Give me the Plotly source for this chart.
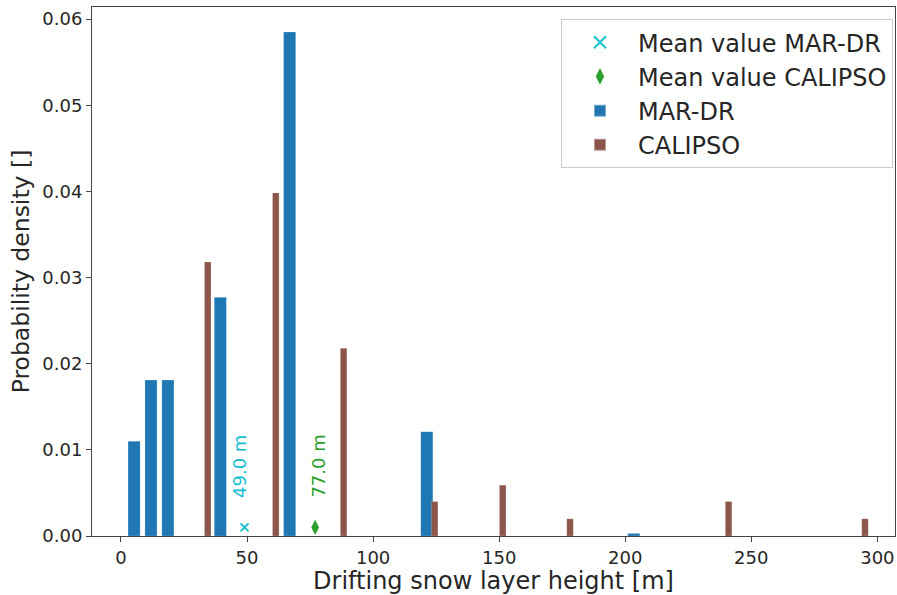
import plotly.graph_objects as go

mar_x = [5.2, 11.9, 18.6, 39.4, 66.9, 121.3, 203.4]
mar_y = [0.0110, 0.0181, 0.0181, 0.0277, 0.0585, 0.0121, 0.0003]
cal_x = [34.4, 61.4, 88.3, 124.4, 151.4, 178.1, 241.0, 295.1]
cal_y = [0.0318, 0.0398, 0.0218, 0.0040, 0.0059, 0.0020, 0.0040, 0.0020]
mean_mar = 49.0
mean_cal = 77.0
mean_y = 0.001

BLUE = "#1f77b4"
BROWN = "#8c564b"
CYAN = "#17becf"
GREEN = "#2ca02c"

fig = go.Figure()
fig.add_trace(go.Scatter(x=[mean_mar], y=[mean_y], mode="markers", name="Mean value MAR-DR",
                         marker=dict(symbol="x-thin", size=8, line=dict(color=CYAN, width=2), color=CYAN)))
fig.add_trace(go.Scatter(x=[mean_cal], y=[mean_y], mode="markers", name="Mean value CALIPSO",
                         marker=dict(symbol="diamond-tall", size=11, color=GREEN)))
fig.add_trace(go.Bar(x=mar_x, y=mar_y, width=[4.8] * len(mar_x), name="MAR-DR",
                     marker=dict(color=BLUE, line=dict(color="rgba(255,255,255,0.4)", width=0.5))))
fig.add_trace(go.Bar(x=cal_x, y=cal_y, width=[2.6] * len(cal_x), name="CALIPSO",
                     marker=dict(color=BROWN, line=dict(color="rgba(255,255,255,0.4)", width=0.5))))

fig.add_annotation(x=46.7, y=0.0081, text=f"{mean_mar:.1f} m", textangle=-90, showarrow=False,
                   font=dict(color=CYAN, size=18, family="DejaVu Sans"))
fig.add_annotation(x=78.3, y=0.0081, text=f"{mean_cal:.1f} m", textangle=-90, showarrow=False,
                   font=dict(color=GREEN, size=18, family="DejaVu Sans"))

axis_common = dict(showline=True, linecolor="#444", linewidth=1, mirror=True, ticks="outside",
                   ticklen=5, tickcolor="#444", showgrid=False, zeroline=False,
                   tickfont=dict(size=18, color="#262626", family="DejaVu Sans"))
fig.update_xaxes(range=[-11.5, 307], tickvals=[0, 50, 100, 150, 200, 250, 300],
                 title=dict(text="Drifting snow layer height [m]", font=dict(size=24, color="#262626", family="DejaVu Sans"),
                            standoff=4), **axis_common)
fig.update_yaxes(range=[0, 0.0614], tickvals=[0, 0.01, 0.02, 0.03, 0.04, 0.05, 0.06], tickformat=".2f",
                 title=dict(text="Probability density []", font=dict(size=23.5, color="#262626", family="DejaVu Sans"),
                            standoff=6), **axis_common)

fig.update_layout(
    width=897, height=595, barmode="overlay",
    margin=dict(l=92, r=2, t=7, b=59),
    plot_bgcolor="white", paper_bgcolor="white",
    font=dict(family="DejaVu Sans", color="#262626"),
    legend=dict(x=0.9975, y=0.977, xanchor="right", yanchor="top", bgcolor="rgba(255,255,255,0.8)",
                bordercolor="#cccccc", borderwidth=1, font=dict(size=24, color="#262626"),
                itemsizing="constant", tracegroupgap=0, itemwidth=66),
    showlegend=True,
)
fig.write_html("out.html")
